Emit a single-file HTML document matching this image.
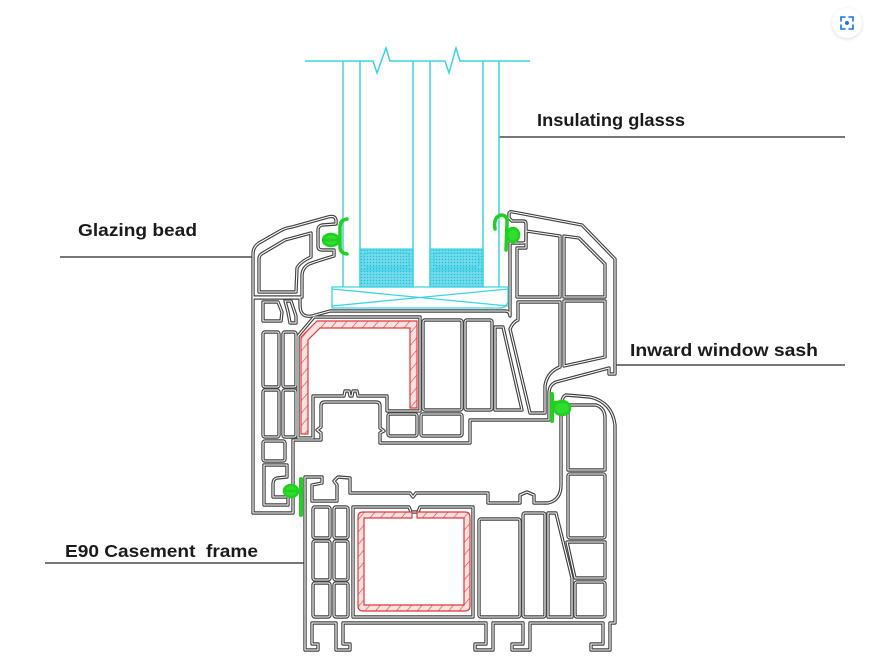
<!DOCTYPE html>
<html>
<head>
<meta charset="utf-8">
<style>
html,body{margin:0;padding:0;background:#fff;}
svg{display:block;}
.lbl{font-family:"Liberation Sans",sans-serif;font-weight:bold;fill:#1b1b1b;font-size:17.5px;white-space:pre;}
</style>
</head>
<body>
<svg width="875" height="669" viewBox="0 0 875 669" xmlns="http://www.w3.org/2000/svg">
<defs>
  <pattern id="hatch" patternUnits="userSpaceOnUse" width="8" height="8" patternTransform="rotate(40)">
    <rect width="8" height="8" fill="#fbe1e1"/>
    <line x1="0" y1="0" x2="0" y2="8" stroke="#e04848" stroke-width="1.3"/>
  </pattern>
  <pattern id="dots" patternUnits="userSpaceOnUse" width="3" height="3">
    <rect width="3" height="3" fill="#72dcec"/>
    <circle cx="1.5" cy="1.5" r="0.8" fill="#2cbcd6"/>
  </pattern>
  <filter id="sh" x="-50%" y="-50%" width="200%" height="200%">
    <feDropShadow dx="0" dy="1" stdDeviation="1.5" flood-color="#000" flood-opacity="0.15"/>
  </filter>

  <g id="prof">
    <!-- glazing bead -->
    <path d="M253,297 L253,254 Q253,247 259,243 L280,231 Q285,228 292,227 L328,217 Q335,215 336,220 L336,224 L322,225 Q318,226 318,230 L318,246 Q318,250 322,250 L334,250 L334,256 Q320,260 309,264 Q302,268 302,276 L302,297 Z"/>
    <path d="M259,292 L259,259 Q259,255 263,253 L285,240 L311,233 L311,257 Q300,262 297,268 L296,292 Z"/>
    <!-- clip below bead -->
    <path d="M263,302 L278,302 L282,312 L281,321 L263,321 Z"/>
    <path d="M285,301 L291,301 L296,316 L296,323 L290,323 L288,312 Z"/>

    <!-- sash outer -->
    <path d="M253,298 L300,298 L300,305 Q300,318 312,316 L330,311 L505,311 Q510,311 510,316 L510,243 L523,243 Q526,243 526,240 L526,224 Q526,221 523,221 L512,221 L509,218 L509,214 Q509,211 513,212 L582,225 L615,259 L615,374 L609,374 L609,368 L556,382 Q549,385 549,393 L549,420 L470,420 L470,443 L380,443 L380,433 L384,431 L380,428 L380,406 Q380,402 376,402 L325,402 Q321,402 321,406 L321,427 L317,430 L321,433 L321,440 L293,440 L293,513 L253,513 Z"/>
    <!-- sash chambers -->
    <rect x="263" y="332" width="16" height="55" rx="2"/>
    <rect x="283" y="332" width="13" height="55" rx="2"/>
    <rect x="263" y="390" width="16" height="47" rx="2"/>
    <rect x="283" y="390" width="13" height="47" rx="2"/>
    <rect x="263" y="441" width="22" height="20" rx="2"/>
    <path d="M264,465 L287,465 L287,477 L277,478 Q273,479 273,484 L273,497 L288,497 L288,505 L264,505 Z"/>
    <path d="M298,438 L298,336 L314,317 L420,317 L420,411 L387,411 L387,396 L358,396 L357,391 L353,391 L352,396 L350,396 L349,391 L345,391 L344,396 L313,396 L313,438 Z"/>
    <rect x="388" y="414" width="29" height="22" rx="2"/>
    <rect x="421" y="414" width="41" height="22" rx="2"/>
    <rect x="423" y="320" width="39" height="90" rx="2"/>
    <rect x="465" y="320" width="27" height="90" rx="2"/>
    <path d="M495,327 L503,327 L522,410 L495,410 Z"/>
    <path d="M510,329 Q513,322 518,320 L518,302 L560,302 L560,367 Q547,372 545,386 L545,413 L530,413 Z"/>
    <path d="M526,231 L560,236 L560,297 L517,297 L517,248 L526,248 Z"/>
    <path d="M564,236 L579,238 L605,264 L605,297 L564,297 Z"/>
    <path d="M564,301 L605,301 L605,357 L564,366 Z"/>

    <!-- frame outer -->
    <path d="M305,650 L305,477 L322,477 L322,483 L312,485 L312,501 L337,501 L337,485 L334,481 L338,477 L350,478 L350,493 L410,493 L413,497 L416,493 L488,493 L488,503 L520,503 L520,495 L527,492 L534,495 L534,503 L548,503 Q561,500 561,485 L561,410 Q561,397 566,395 L590,397 Q612,402 615,425 L615,623 L610,623 L610,650 L591,650 L591,644 L603,644 L603,623 L530,623 L530,650 L512,650 L512,644 L523,644 L523,623 L493,623 L493,650 L475,650 L475,644 L486,644 L486,623 L343,623 L343,644 L350,644 L350,650 L336,650 L336,623 L312,623 L312,644 L318,644 L318,650 Z"/>
    <!-- frame chambers -->
    <rect x="313" y="507" width="17" height="31" rx="2"/>
    <rect x="334" y="507" width="14" height="31" rx="2"/>
    <rect x="313" y="541" width="17" height="39" rx="2"/>
    <rect x="334" y="541" width="14" height="39" rx="2"/>
    <rect x="313" y="583" width="17" height="34" rx="2"/>
    <rect x="334" y="583" width="14" height="34" rx="2"/>
    <path d="M353,507 L409,507 L411,512 L418,512 L420,507 L473,507 L473,617 L353,617 Z"/>
    <rect x="479" y="519" width="41" height="98" rx="2"/>
    <rect x="523" y="513" width="22" height="104" rx="2"/>
    <path d="M548,513 L556,513 L572,578 L572,617 L548,617 Z"/>
    <path d="M568,405 L596,405 Q605,408 605,418 L605,470 L568,470 Z"/>
    <rect x="568" y="474" width="37" height="64" rx="2"/>
    <path d="M567,542 L605,542 L605,578 L575,578 Z"/>
    <rect x="575" y="582" width="30" height="35" rx="2"/>
  </g>
</defs>

<rect width="875" height="669" fill="#fff"/>

<!-- leader lines -->
<g stroke="#4a4a4a" stroke-width="1.5" fill="none">
  <line x1="499" y1="137" x2="845" y2="137"/>
  <line x1="60" y1="257" x2="253" y2="257"/>
  <line x1="615" y1="365" x2="845" y2="365"/>
  <line x1="45" y1="563" x2="305" y2="563"/>
</g>

<!-- profile (hollow CAD lines) -->
<use href="#prof" stroke="#424242" stroke-width="3.4" fill="none" stroke-linejoin="round"/>
<use href="#prof" stroke="#ffffff" stroke-width="1.1" fill="none" stroke-linejoin="round"/>

<!-- steel reinforcement -->
<path d="M301,434 L301,337 L317,321 L417,321 L417,408 L410,408 L410,328 L320,328 L308,340 L308,434 Z" fill="url(#hatch)" stroke="#e03a3a" stroke-width="1.2"/>
<path d="M412,512 L363,512 Q358,512 358,517 L358,606 Q358,611 363,611 L465,611 Q470,611 470,606 L470,517 Q470,512 465,512 L417,512 L417,518 L464,518 L464,605 L364,605 L364,518 L412,518 Z" fill="url(#hatch)" stroke="#e03a3a" stroke-width="1.2"/>

<!-- glass -->
<g stroke="#3ed3e4" stroke-width="1.5" fill="none">
  <path d="M305,61 L373,61 L377,73 L386,48 L390,61 L445,61 L449,73 L456,48 L460,61 L530,61"/>
  <line x1="343" y1="61" x2="343" y2="287"/>
  <line x1="360" y1="61" x2="360" y2="287"/>
  <line x1="413" y1="61" x2="413" y2="287"/>
  <line x1="430" y1="61" x2="430" y2="287"/>
  <line x1="483" y1="61" x2="483" y2="287"/>
  <line x1="499" y1="61" x2="499" y2="287"/>
</g>
<!-- spacers -->
<g stroke="#3ed3e4" stroke-width="1.2">
  <rect x="360" y="249" width="53" height="38" fill="url(#dots)"/>
  <rect x="430" y="249" width="53" height="38" fill="url(#dots)"/>
  <rect x="364" y="253" width="45" height="14" rx="3" fill="none"/>
  <rect x="434" y="253" width="45" height="14" rx="3" fill="none"/>
  <line x1="360" y1="270" x2="413" y2="270"/>
  <line x1="430" y1="270" x2="483" y2="270"/>
</g>
<!-- setting block -->
<g stroke="#3ed3e4" stroke-width="1.3" fill="none">
  <path d="M332,287 L508,287 L508,302 Q506,308 500,308 L332,308 Z"/>
  <line x1="332" y1="289" x2="508" y2="306"/>
  <line x1="332" y1="306" x2="508" y2="289"/>
</g>

<!-- gaskets -->
<g fill="#2fdc2f" stroke="#20d020" stroke-width="2.6" stroke-linecap="round">
  <path d="M347,219 Q340,220 340,227 L340,247 Q340,253 347,254" fill="none" stroke-width="3.5"/>
  <ellipse cx="331" cy="240" rx="8" ry="6"/>
  <line x1="324" y1="240" x2="340" y2="240"/>

  <path d="M495,229 Q493,216 502,215 Q508,216 507,223 L506,250" fill="none" stroke-width="3.5"/>
  <ellipse cx="513" cy="235" rx="6" ry="7"/>

  <path d="M552,394 L552,421" fill="none" stroke-width="4"/>
  <ellipse cx="562" cy="408" rx="8" ry="7"/>
  <line x1="552" y1="402" x2="566" y2="402"/>

  <path d="M301,479 L301,515" fill="none" stroke-width="4"/>
  <ellipse cx="291" cy="491" rx="7" ry="6"/>
  <line x1="286" y1="491" x2="301" y2="491"/>
</g>

<!-- labels -->
<text class="lbl" x="537" y="126" textLength="148" lengthAdjust="spacingAndGlyphs">Insulating glasss</text>
<text class="lbl" x="78" y="236" textLength="119" lengthAdjust="spacingAndGlyphs">Glazing bead</text>
<text class="lbl" x="630" y="356" textLength="188" lengthAdjust="spacingAndGlyphs">Inward window sash</text>
<text class="lbl" x="65" y="557" textLength="193" lengthAdjust="spacingAndGlyphs">E90 Casement  frame</text>

<!-- top-right icon -->
<circle cx="847" cy="23" r="15" fill="#fff" filter="url(#sh)"/>
<g stroke="#1a73e8" stroke-width="1.6" fill="none" stroke-linecap="round">
  <path d="M841,21 L841,17 L845,17"/>
  <path d="M849,17 L853,17 L853,21"/>
  <path d="M853,25 L853,29 L849,29"/>
  <path d="M845,29 L841,29 L841,25"/>
</g>
<circle cx="847" cy="23" r="2" fill="#1a73e8"/>
</svg>
</body>
</html>
